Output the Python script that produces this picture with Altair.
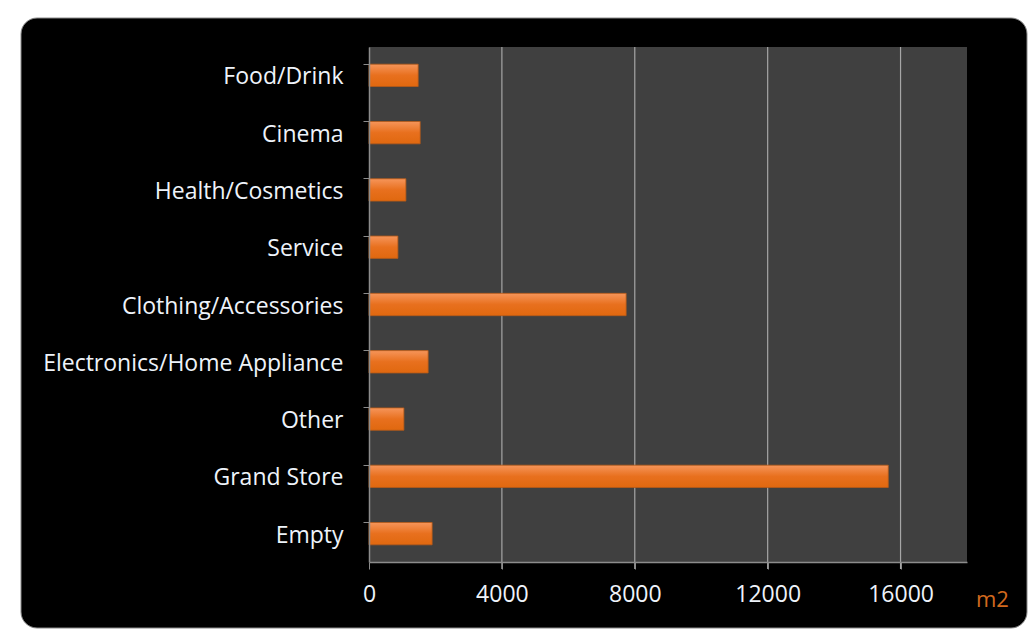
import altair as alt
import pandas as pd

categories = ["Food/Drink", "Cinema", "Health/Cosmetics", "Service", "Clothing/Accessories",
              "Electronics/Home Appliance", "Other", "Grand Store", "Empty"]
areas = [1480, 1540, 1110, 870, 7740, 1780, 1050, 15630, 1900]
x_ticks = [0, 4000, 8000, 12000, 16000]
grid_values = [4000, 8000, 12000, 16000]

df = pd.DataFrame({"category": categories, "area": areas})
gdf = pd.DataFrame({"g": grid_values})

W, H = 598, 515
xscale = alt.Scale(domain=[0, 18000], nice=False)
FONT = "Open Sans"
FS = 23

panel = alt.Chart(pd.DataFrame({"a": [0]})).mark_rect(
    color="#000000", cornerRadius=16, stroke="#8a8a8a", strokeWidth=1
).encode(
    x=alt.value(-348), x2=alt.value(W + 60),
    y=alt.value(-29), y2=alt.value(H + 66),
)

plotarea = alt.Chart(pd.DataFrame({"a": [0]})).mark_rect(color="#404040").encode(
    x=alt.value(0), x2=alt.value(W), y=alt.value(0), y2=alt.value(H),
)

grid = alt.Chart(gdf).mark_rule(color="#a6a6a6", strokeWidth=1.2).encode(
    x=alt.X("g:Q", scale=xscale),
    y=alt.value(0), y2=alt.value(H + 7),
)

bars = alt.Chart(df).mark_bar(
    color=alt.Gradient(
        gradient="linear",
        stops=[alt.GradientStop(color="#f6955a", offset=0),
               alt.GradientStop(color="#e8701e", offset=0.5),
               alt.GradientStop(color="#e0680f", offset=1)],
        x1=0, x2=0, y1=0, y2=1,
    ),
    stroke="#b85a18", strokeWidth=0.8,
).encode(
    x=alt.X("area:Q", scale=xscale,
            axis=alt.Axis(values=x_ticks, format="d", title=None, grid=False, zindex=1,
                          labelFlush=False,
                          domainColor="#8c8c8c", tickColor="#8c8c8c",
                          tickSize=7, labelColor="#eef3fa", labelFontSize=FS,
                          labelFont=FONT, labelPadding=14, domainWidth=1.5)),
    y=alt.Y("category:N", sort=categories,
            scale=alt.Scale(paddingInner=0.61, paddingOuter=0.3),
            axis=alt.Axis(title=None, labelColor="#eef3fa", labelFontSize=FS, zindex=1,
                          labelFont=FONT, labelPadding=20, labelOffset=2,
                          domainColor="#8c8c8c",
                          domainWidth=1.5, tickColor="#8c8c8c", tickSize=6,
                          bandPosition=0, grid=False, labelLimit=400)),
)

unit = alt.Chart(pd.DataFrame({"t": ["m2"]})).mark_text(
    color="#d2691e", fontSize=FS - 1, font=FONT, align="left", baseline="middle"
).encode(text="t:N", x=alt.value(W + 9), y=alt.value(H + 38))

chart = alt.layer(panel, plotarea, grid, bars, unit).properties(
    width=W, height=H,
    background="#ffffff",
    padding={"left": 369, "top": 47, "right": 68, "bottom": 74},
    autosize=alt.AutoSizeParams(type="none"),
).configure_view(stroke=None)

chart.save("out.html", embed_options={"renderer": "svg", "actions": False})
